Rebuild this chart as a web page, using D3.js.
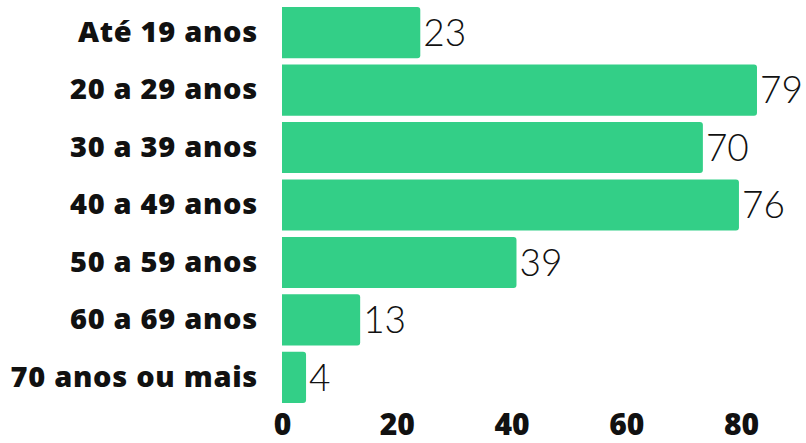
<!DOCTYPE html>
<html>
<head>
<meta charset="utf-8">
<script src="https://cdn.jsdelivr.net/npm/d3@7"></script>
<style>
  body { margin: 0; background: #fff; }
  svg text { font-family: Lato, "Open Sans", sans-serif; }
  svg .bold text { font-family: "Open Sans", Lato, sans-serif; }
</style>
</head>
<body>
<div id="chart"></div>
<script>
// data
const faixas = ["Até 19 anos", "20 a 29 anos", "30 a 39 anos", "40 a 49 anos", "50 a 59 anos", "60 a 69 anos", "70 anos ou mais"]
const valores = [23, 79, 70, 76, 39, 13, 4]
const ticks = [0, 20, 40, 60, 80]

const width = 806
const height = 443
const margin = { top: 7, bottom: 40, left: 282, right: 43 }

const svg = d3.select("#chart")
  .append("svg")
  .attr("width", width)
  .attr("height", height)

// scales
const xscale = d3.scaleLinear().domain([0, 80]).range([margin.left, width - margin.right])
// axis labels in the original sit a little tighter than the bars
const xaxisScale = d3.scaleLinear().domain([0, 80]).range([margin.left, 741])
const yscale = d3.scaleBand().domain(faixas).range([margin.top, height - margin.bottom]).paddingInner(0.11)

const r = 3
const barPath = (d, i) => {
  const x0 = xscale(0), x1 = xscale(d), y0 = yscale(faixas[i]), h = yscale.bandwidth()
  return `M${x0},${y0}H${x1 - r}Q${x1},${y0} ${x1},${y0 + r}V${y0 + h - r}Q${x1},${y0 + h} ${x1 - r},${y0 + h}H${x0}Z`
}

svg.append("g")
  .selectAll("path")
  .data(valores)
  .join("path")
  .attr("d", barPath)
  .attr("fill", "#33cf87")

// value labels
svg.append("g")
  .selectAll("text")
  .data(valores)
  .join("text")
  .attr("x", (d) => xscale(d) + 3)
  .attr("y", (d, i) => yscale(faixas[i]) + yscale.bandwidth() / 2)
  .attr("dy", "0.36em")
  .attr("font-size", 37)
  .attr("font-weight", 300)
  .attr("fill", "#111")
  .text((d) => d)

// category labels
const yaxis = d3.axisLeft(yscale).tickSize(0).tickPadding(24)
svg.append("g")
  .attr("class", "bold")
  .attr("transform", `translate(${margin.left},0)`)
  .call(yaxis)
  .call((g) => g.select(".domain").remove())
  .selectAll("text")
  .attr("font-size", 29)
  .attr("font-weight", 800)
  .attr("letter-spacing", 0.7)
  .attr("fill", "#111")

// bottom axis
const xaxis = d3.axisBottom(xaxisScale).tickValues(ticks).tickSize(0).tickPadding(0)
svg.append("g")
  .attr("class", "bold")
  .attr("transform", `translate(0,${height - 29})`)
  .call(xaxis)
  .call((g) => g.select(".domain").remove())
  .selectAll("text")
  .attr("font-size", 30)
  .attr("font-weight", 800)
  .attr("fill", "#111")
</script>
</body>
</html>
